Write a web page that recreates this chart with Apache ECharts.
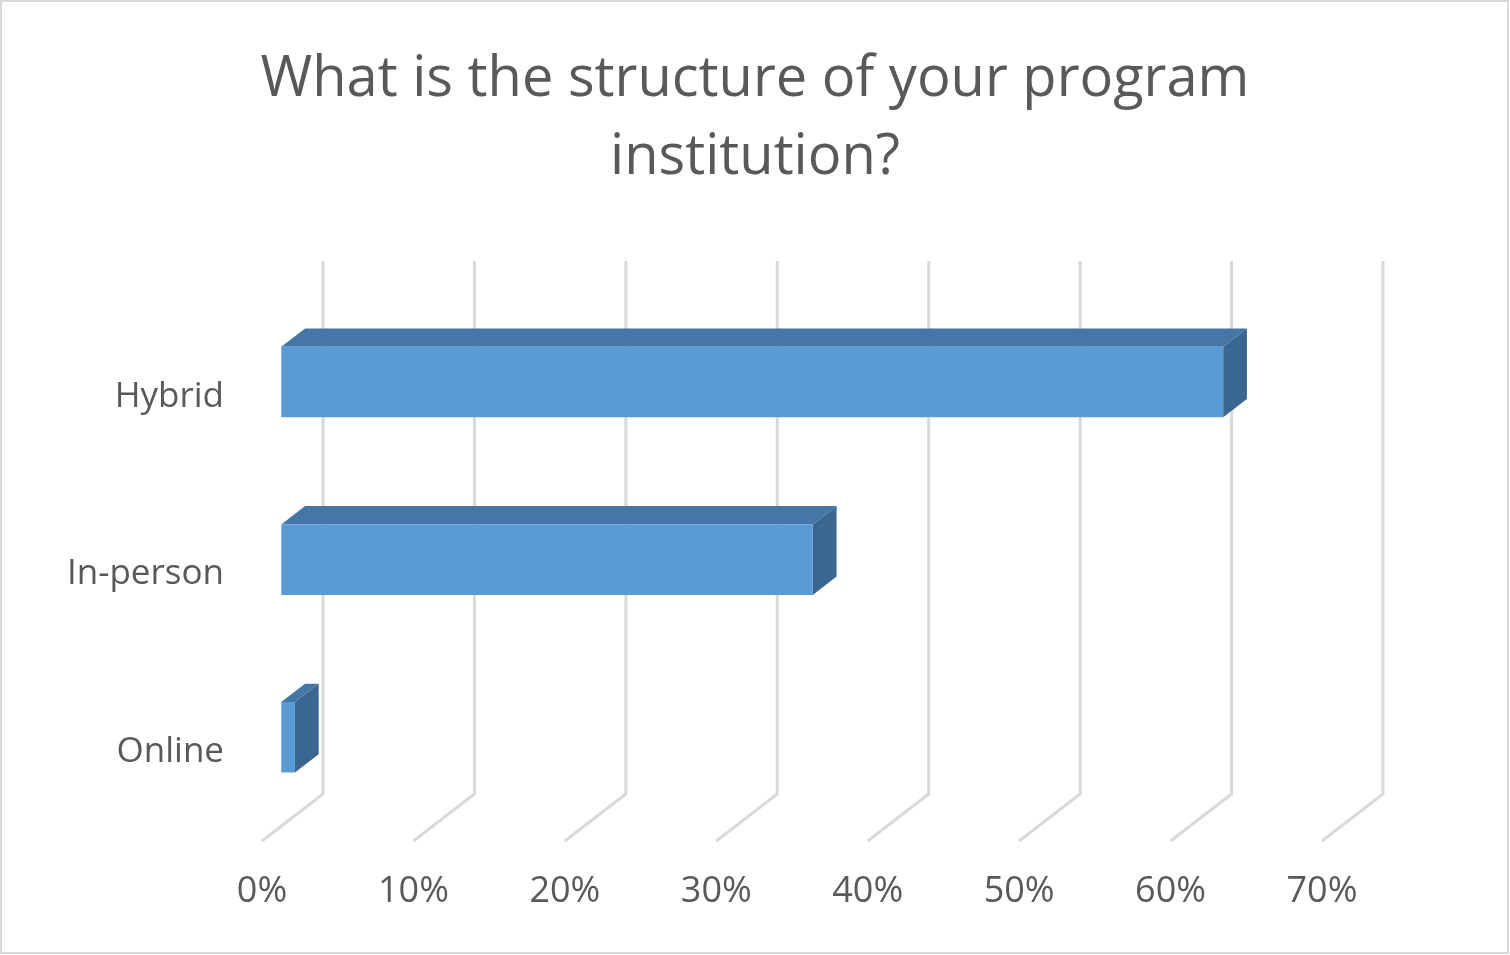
<!DOCTYPE html>
<html lang="en">
<head>
    <meta charset="UTF-8">
    <title>Program structure</title>
    <script src="https://cdn.jsdelivr.net/npm/echarts@6/dist/echarts.min.js"></script>
    <style>
        html, body { margin: 0; padding: 0; background: #fff; }
        #chart { width: 1510px; height: 955px; }
    </style>
</head>
<body>
<div id="chart"></div>
<script>
    // data
    var categories = ['Hybrid', 'In-person', 'Online'];
    var shares = [62.2, 35.1, 0.9];      // percent
    var xTicks = [0, 10, 20, 30, 40, 50, 60, 70];

    // oblique depth of the 3d floor, in px (front -> back)
    var DX = 61, DY = -47;
    var BAR_FRONT = 0.316;  // where the bar's front face sits in the depth
    var BAR_DEPTH = 0.39;   // how deep the bar is
    var BAR_H = 0.397;      // bar thickness as share of the band

    var myChart = echarts.init(document.getElementById('chart'));

    var barData = shares.map(function (v, i) { return [v, i]; });

    var option = {
        animation: false,
        title: {
            text: 'What is the structure of your program\ninstitution?',
            left: 'center',
            top: 36,
            textStyle: {
                fontFamily: 'Open Sans',
                fontWeight: 'normal',
                fontSize: 56,
                lineHeight: 78,
                color: '#595959'
            }
        },
        graphic: [{
            type: 'rect',
            shape: { x: 1, y: 1, width: 1507, height: 952 },
            style: { fill: 'none', stroke: '#d9d9d9', lineWidth: 2 },
            silent: true
        }],
        grid: {
            left: 262,
            top: 308,
            width: 1060,
            height: 533
        },
        xAxis: {
            type: 'value',
            min: 0,
            max: 70,
            interval: 10,
            axisLine: { show: false },
            axisTick: { show: false },
            splitLine: { show: false },
            axisLabel: {
                formatter: '{value}%',
                margin: 33,
                fontFamily: 'Open Sans',
                fontSize: 36,
                color: '#595959'
            }
        },
        yAxis: {
            type: 'category',
            inverse: true,
            data: categories,
            axisLine: { show: false },
            axisTick: { show: false },
            axisLabel: {
                margin: 38,
                padding: [5, 0, 0, 0],
                fontFamily: 'Open Sans',
                fontSize: 35,
                color: '#595959'
            }
        },
        series: [
            {
                // floor + back wall gridlines
                type: 'custom',
                data: xTicks.map(function (t) { return [t, 0]; }),
                silent: true,
                z: 1,
                renderItem: function (params, api) {
                    var cs = params.coordSys;
                    var x = api.coord([api.value(0), 0])[0];
                    var bottom = cs.y + cs.height;
                    return {
                        type: 'polyline',
                        shape: {
                            points: [
                                [x, bottom],
                                [x + DX, bottom + DY],
                                [x + DX, cs.y + DY]
                            ]
                        },
                        style: { fill: 'none', stroke: '#d9d9d9', lineWidth: 3 }
                    };
                }
            },
            {
                // 3d bars
                type: 'custom',
                data: barData,
                z: 2,
                renderItem: function (params, api) {
                    var idx = api.value(1);
                    var c0 = api.coord([0, idx]);
                    var c1 = api.coord([api.value(0), idx]);
                    var h = api.size([0, 1])[1] * BAR_H;
                    var fx = BAR_FRONT * DX, fy = BAR_FRONT * DY;
                    var dx = BAR_DEPTH * DX, dy = BAR_DEPTH * DY;
                    var x0 = c0[0] + fx, x1 = c1[0] + fx;
                    var yt = c0[1] + fy - h / 2, yb = c0[1] + fy + h / 2;
                    return {
                        type: 'group',
                        children: [
                            {
                                type: 'polygon',
                                shape: { points: [[x0, yt], [x1, yt], [x1 + dx, yt + dy], [x0 + dx, yt + dy]] },
                                style: { fill: '#4577a6' }
                            },
                            {
                                type: 'polygon',
                                shape: { points: [[x1, yt], [x1 + dx, yt + dy], [x1 + dx, yb + dy], [x1, yb]] },
                                style: { fill: '#3b6690' }
                            },
                            {
                                type: 'rect',
                                shape: { x: x0, y: yt, width: x1 - x0, height: yb - yt },
                                style: { fill: '#5b9bd5' }
                            }
                        ]
                    };
                }
            }
        ]
    };

    myChart.setOption(option);
</script>
</body>
</html>
